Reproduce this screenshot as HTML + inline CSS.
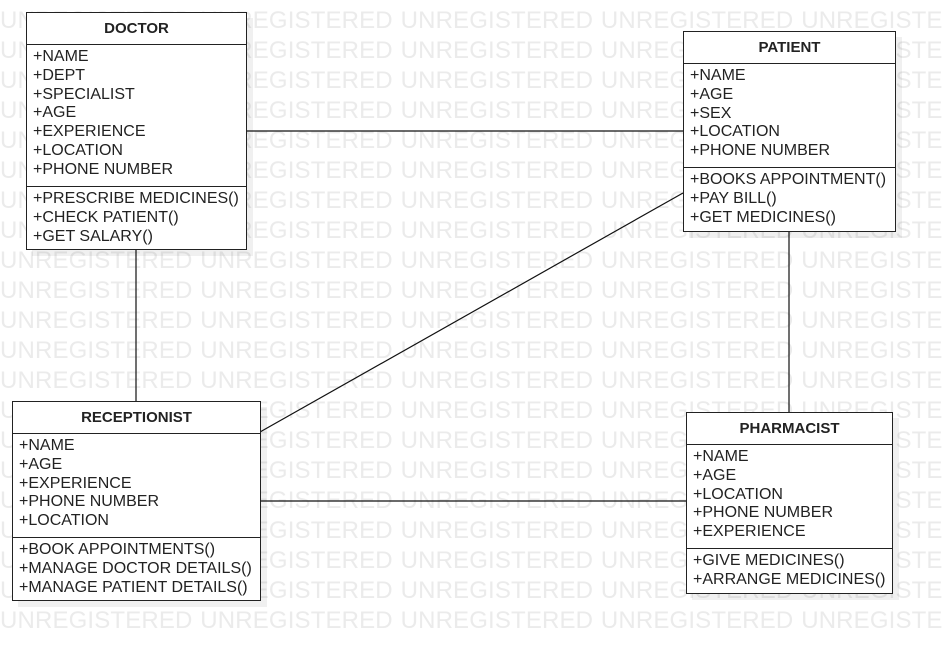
<!DOCTYPE html>
<html><head><style>
html,body{margin:0;width:943px;height:651px;overflow:hidden}
body{background:#fff;position:relative;font-family:"Liberation Sans",sans-serif}
.wm{position:absolute;left:0;top:6px;width:943px;overflow:hidden;font-size:24px;color:#ebebeb;white-space:pre;line-height:30px;letter-spacing:0.15px;word-spacing:1px}
.box{position:absolute;background:#fff;border:1px solid #222;box-shadow:6px 6px 0 rgba(0,0,0,0.06);color:#222}
.h{font-weight:bold;text-align:center;font-size:15px;border-bottom:1px solid #222;box-sizing:border-box}
.s{padding:3px 0 0 6px;font-size:16px;line-height:18.8px;box-sizing:border-box;white-space:nowrap}
.s+.s{border-top:1px solid #222}
</style></head><body>
<div class="wm">UNREGISTERED UNREGISTERED UNREGISTERED UNREGISTERED UNREGISTERED
UNREGISTERED UNREGISTERED UNREGISTERED UNREGISTERED UNREGISTERED
UNREGISTERED UNREGISTERED UNREGISTERED UNREGISTERED UNREGISTERED
UNREGISTERED UNREGISTERED UNREGISTERED UNREGISTERED UNREGISTERED
UNREGISTERED UNREGISTERED UNREGISTERED UNREGISTERED UNREGISTERED
UNREGISTERED UNREGISTERED UNREGISTERED UNREGISTERED UNREGISTERED
UNREGISTERED UNREGISTERED UNREGISTERED UNREGISTERED UNREGISTERED
UNREGISTERED UNREGISTERED UNREGISTERED UNREGISTERED UNREGISTERED
UNREGISTERED UNREGISTERED UNREGISTERED UNREGISTERED UNREGISTERED
UNREGISTERED UNREGISTERED UNREGISTERED UNREGISTERED UNREGISTERED
UNREGISTERED UNREGISTERED UNREGISTERED UNREGISTERED UNREGISTERED
UNREGISTERED UNREGISTERED UNREGISTERED UNREGISTERED UNREGISTERED
UNREGISTERED UNREGISTERED UNREGISTERED UNREGISTERED UNREGISTERED
UNREGISTERED UNREGISTERED UNREGISTERED UNREGISTERED UNREGISTERED
UNREGISTERED UNREGISTERED UNREGISTERED UNREGISTERED UNREGISTERED
UNREGISTERED UNREGISTERED UNREGISTERED UNREGISTERED UNREGISTERED
UNREGISTERED UNREGISTERED UNREGISTERED UNREGISTERED UNREGISTERED
UNREGISTERED UNREGISTERED UNREGISTERED UNREGISTERED UNREGISTERED
UNREGISTERED UNREGISTERED UNREGISTERED UNREGISTERED UNREGISTERED
UNREGISTERED UNREGISTERED UNREGISTERED UNREGISTERED UNREGISTERED
UNREGISTERED UNREGISTERED UNREGISTERED UNREGISTERED UNREGISTERED</div>
<svg style="position:absolute;left:0;top:0" width="943" height="651">
<g stroke="#111" stroke-width="1.2" fill="none">
<line x1="246" y1="131" x2="683" y2="131"/>
<line x1="136" y1="249" x2="136" y2="401"/>
<line x1="683" y1="193" x2="260" y2="432"/>
<line x1="789" y1="231" x2="789" y2="412"/>
<line x1="260" y1="501" x2="686" y2="501"/>
</g></svg>

<div class="box" style="left:26px;top:12px;width:219px;height:236px">
<div class="h" style="height:32px;line-height:31px">DOCTOR</div>
<div class="s" style="height:141px">+NAME<br>+DEPT<br>+SPECIALIST<br>+AGE<br>+EXPERIENCE<br>+LOCATION<br>+PHONE NUMBER</div>
<div class="s">+PRESCRIBE MEDICINES()<br>+CHECK PATIENT()<br>+GET SALARY()</div>
</div>

<div class="box" style="left:683px;top:31px;width:211px;height:199px">
<div class="h" style="height:32px;line-height:31px">PATIENT</div>
<div class="s" style="height:103px">+NAME<br>+AGE<br>+SEX<br>+LOCATION<br>+PHONE NUMBER</div>
<div class="s">+BOOKS APPOINTMENT()<br>+PAY BILL()<br>+GET MEDICINES()</div>
</div>

<div class="box" style="left:12px;top:401px;width:247px;height:198px">
<div class="h" style="height:32px;line-height:31px">RECEPTIONIST</div>
<div class="s" style="height:103px">+NAME<br>+AGE<br>+EXPERIENCE<br>+PHONE NUMBER<br>+LOCATION</div>
<div class="s">+BOOK APPOINTMENTS()<br>+MANAGE DOCTOR DETAILS()<br>+MANAGE PATIENT DETAILS()</div>
</div>

<div class="box" style="left:686px;top:412px;width:205px;height:180px">
<div class="h" style="height:32px;line-height:31px">PHARMACIST</div>
<div class="s" style="height:103px">+NAME<br>+AGE<br>+LOCATION<br>+PHONE NUMBER<br>+EXPERIENCE</div>
<div class="s">+GIVE MEDICINES()<br>+ARRANGE MEDICINES()</div>
</div>
</body></html>
